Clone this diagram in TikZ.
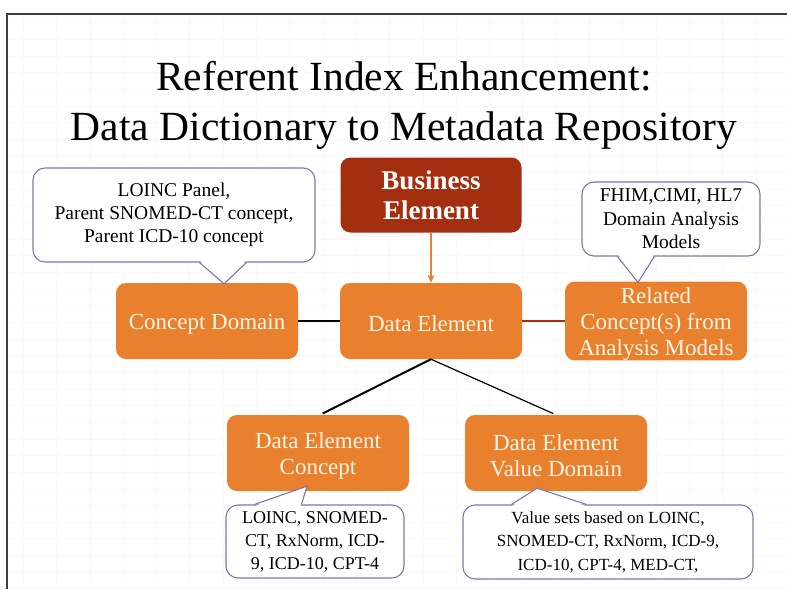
\documentclass[tikz,border=0pt]{standalone}
\usepackage{fontspec}
\setmainfont{Liberation Serif}
\usetikzlibrary{calc,arrows.meta}

\definecolor{boxorange}{RGB}{232,128,46}
\definecolor{bizred}{RGB}{164,46,16}
\definecolor{boxtext}{RGB}{255,246,232}
\definecolor{calloutedge}{RGB}{122,122,172}
\definecolor{framegray}{RGB}{60,60,60}

\newcommand\toplift{\rule{0pt}{22pt}}

\tikzset{
  stepbox/.style={rounded corners=10pt, fill=boxorange, text=boxtext,
    minimum width=182pt, minimum height=76pt, inner sep=0pt, align=center,
    font=\fontsize{23}{26}\selectfont},
  bizbox/.style={stepbox, fill=bizred, text=white,
    font=\fontsize{27}{30}\selectfont\bfseries},
  callouttext/.style={inner sep=0pt, align=center, text=black,
    draw=calloutedge, line width=1.1pt, fill=white, rounded corners=12pt},
  pointeredge/.style={draw=calloutedge, line width=1.1pt, line join=miter},
  link/.style={draw=black, line width=1.2pt},
}

\begin{document}
\begin{tikzpicture}[x=1pt, y=-1pt]
  % page and faint background grid
  \fill[white] (0,0) rectangle (787,589);
  \useasboundingbox (0,0) rectangle (787,589);
  \begin{scope}[draw=black!2.5, line width=0.8pt]
    \foreach \gx in {23.3,56.6,...,787} \draw (\gx,16) -- (\gx,589);
    \foreach \gy in {22.7,39.35,...,589} \draw (8,\gy) -- (787,\gy);
  \end{scope}
  \draw[framegray, line width=1.3pt] (7,589) -- (7,14) -- (787,14);

  % title
  \node[align=center, font=\fontsize{41.5}{50}\selectfont] (title) at (404,105)
    {Referent Index Enhancement:\\Data Dictionary to Metadata Repository};

  % boxes
  \node[bizbox, minimum width=181pt, minimum height=75pt] (biz) at (431,195) {Business\\Element};
  \node[stepbox] (de)  at (431,321) {\toplift Data Element};
  \node[stepbox] (cd)  at (207,321) {\toplift Concept Domain};
  \node[stepbox] (rc)  at (656,321) {\toplift Related\\Concept(s) from\\Analysis Models};
  \node[stepbox] (dec) at (318,453) {\toplift Data Element\\Concept};
  \node[stepbox] (dvd) at (556,453) {\toplift Data Element\\Value Domain};

  % connectors
  \draw[draw=boxorange, line width=1.6pt, -{Stealth[length=8pt,width=7pt]}] (biz.south) -- (de.north);
  \draw[link] (cd.east) -- (de.west);
  \draw[draw=bizred, line width=1.1pt] (de.east) -- (rc.west);
  \draw[link, line width=2pt, shorten >=3pt] (de.south) -- ([xshift=2pt]dec.north);
  \draw[link, shorten >=3pt] (de.south) -- (dvd.north);

  % callouts
  \node[callouttext, minimum width=282pt, minimum height=94pt,
        font=\fontsize{19.5}{23}\selectfont] (co1) at (174,215)
    {LOINC Panel,\\Parent SNOMED-CT concept,\\Parent ICD-10 concept};
  \node[callouttext, minimum width=178pt, minimum height=74pt,
        font=\fontsize{19.5}{23.5}\selectfont] (co2) at (671,219)
    {FHIM,CIMI, HL7\\Domain Analysis\\Models};
  \node[callouttext, minimum width=178pt, minimum height=73pt,
        font=\fontsize{18}{23}\selectfont] (co3) at (315,541.5)
    {LOINC, SNOMED-\\CT, RxNorm, ICD-\\9, ICD-10, CPT-4};
  \node[callouttext, minimum width=290pt, minimum height=74pt,
        font=\fontsize{17}{23.5}\selectfont] (co4) at (608,542)
    {Value sets based on LOINC,\\SNOMED-CT, RxNorm,\ ICD-9,\\ICD-10, CPT-4, MED-CT,};

  % pointer tips toward the box each callout describes
  \coordinate (t1) at ([xshift=17pt, yshift=-1pt]cd.north);
  \coordinate (t2) at ([xshift=-18pt, yshift=-1pt]rc.north);
  \coordinate (t3) at ([xshift=-11pt, yshift=5pt]dec.south);
  \coordinate (t4) at ([xshift=-19pt, yshift=3pt]dvd.south);

  % pointers: white wedge over the outline, then its two sides
  \fill[white] ($(co1.south west)+(168,-1.5)$) -- (t1) -- ($(co1.south west)+(213,-1.5)$) -- cycle;
  \draw[pointeredge] ($(co1.south west)+(167,0)$) -- (t1) -- ($(co1.south west)+(214,0)$);
  \fill[white] ($(co2.south west)+(37,-1.5)$) -- (t2) -- ($(co2.south west)+(72,-1.5)$) -- cycle;
  \draw[pointeredge] ($(co2.south west)+(36,0)$) -- (t2) -- ($(co2.south west)+(73,0)$);
  \fill[white] ($(co3.north west)+(30,1.5)$) -- (t3) -- ($(co3.north west)+(75,1.5)$) -- cycle;
  \draw[pointeredge] ($(co3.north west)+(29,0)$) -- (t3) -- ($(co3.north west)+(76,0)$);
  \fill[white] ($(co4.north west)+(50,1.5)$) -- (t4) -- ($(co4.north west)+(123,1.5)$) -- cycle;
  \draw[pointeredge] ($(co4.north west)+(49,0)$) -- (t4) -- ($(co4.north west)+(124,0)$);
\end{tikzpicture}
\end{document}
